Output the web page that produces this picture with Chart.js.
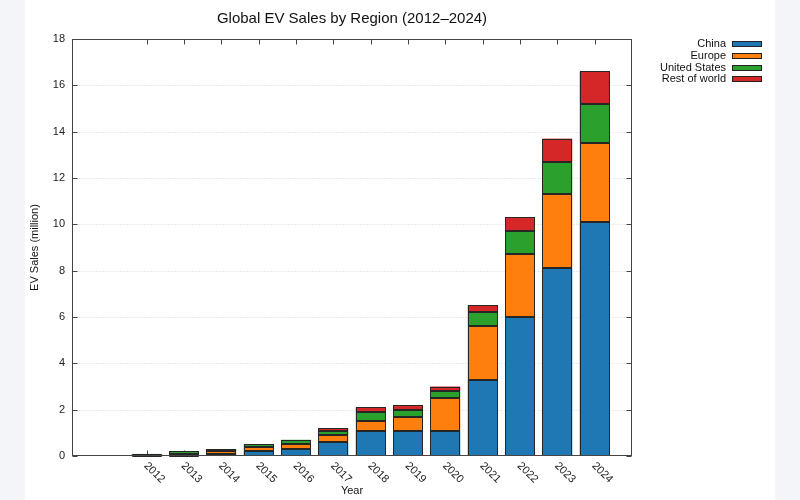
<!DOCTYPE html>
<html>
<head>
<meta charset="utf-8">
<script src="https://cdn.jsdelivr.net/npm/chart.js@4.4.1/dist/chart.umd.min.js"></script>
<style>
  html, body { margin: 0; padding: 0; background: #f4f5f9; }
  #wrap { position: absolute; left: 25px; top: 0; width: 750px; height: 500px; background: #ffffff; }
  canvas { display: block; }
</style>
</head>
<body>
<div id="wrap"><canvas id="c" width="750" height="500"></canvas></div>
<script>
// ---- data (million EV sales) ----
const years = ['2012','2013','2014','2015','2016','2017','2018','2019','2020','2021','2022','2023','2024'];
const china        = [0.01, 0.02, 0.1, 0.2, 0.3, 0.6, 1.1, 1.1, 1.1, 3.3, 6.0, 8.1, 10.1];
const europe       = [0.02, 0.08, 0.1, 0.2, 0.2, 0.3, 0.4, 0.6, 1.4, 2.3, 2.7, 3.2, 3.4];
const unitedStates = [0.06, 0.1, 0.1, 0.1, 0.2, 0.2, 0.4, 0.3, 0.3, 0.6, 1.0, 1.4, 1.7];
const restOfWorld  = [0.0, 0.0, 0.0, 0.0, 0.0, 0.1, 0.2, 0.2, 0.2, 0.3, 0.6, 1.0, 1.4];
const seriesNames  = ['China', 'Europe', 'United States', 'Rest of world'];
const seriesColors = ['#1f77b4', '#ff7f0e', '#2ca02c', '#d62728'];
const titleText = 'Global EV Sales by Region (2012\u20132024)';
const xTitle = 'Year';
const yTitle = 'EV Sales (million)';

const FONT = "'Liberation Sans', Arial, Helvetica, sans-serif";
const series = [china, europe, unitedStates, restOfWorld];
const datasets = series.map((arr, k) => ({
  label: seriesNames[k],
  data: arr.map((v, i) => ({ x: i, y: v })),
  backgroundColor: seriesColors[k],
  borderWidth: 0,
  barPercentage: 0.8,
  categoryPercentage: 1.0
}));

const gp = {
  id: 'gp',
  beforeDatasetsDraw(chart) {
    const { ctx, chartArea: a, scales: { x, y } } = chart;
    const L = Math.round(a.left) + 0.5, R = Math.round(a.right) - 0.5;
    const T = Math.round(a.top) + 0.5, B = Math.round(a.bottom) - 0.5;
    ctx.save();
    // dotted grid
    ctx.strokeStyle = '#d4d4d4';
    ctx.lineWidth = 1;
    ctx.setLineDash([1, 2]);
    y.ticks.forEach(t => {
      if (t.value <= y.min || t.value >= y.max) return;
      const py = Math.round(y.getPixelForValue(t.value)) + 0.5;
      ctx.beginPath(); ctx.moveTo(L, py); ctx.lineTo(R, py); ctx.stroke();
    });
    ctx.setLineDash([]);
    // tick marks (inward, mirrored)
    ctx.strokeStyle = '#444444';
    y.ticks.forEach(t => {
      const py = Math.round(y.getPixelForValue(t.value)) + 0.5;
      ctx.beginPath();
      ctx.moveTo(L, py); ctx.lineTo(L + 5, py);
      ctx.moveTo(R, py); ctx.lineTo(R - 5, py);
      ctx.stroke();
    });
    years.forEach((lab, i) => {
      const px = Math.round(x.getPixelForValue(i)) + 0.5;
      ctx.beginPath();
      ctx.moveTo(px, B); ctx.lineTo(px, B - 5);
      ctx.moveTo(px, T); ctx.lineTo(px, T + 5);
      ctx.stroke();
    });
    ctx.restore();
  },
  afterDatasetsDraw(chart) {
    const { ctx, chartArea: a } = chart;
    ctx.save();
    // bar outlines from the library's bar geometry
    ctx.strokeStyle = '#262626';
    ctx.lineWidth = 1;
    chart.data.datasets.forEach((ds, k) => {
      const meta = chart.getDatasetMeta(k);
      meta.data.forEach(el => {
        const p = el.getProps(['x', 'y', 'base', 'width'], true);
        const top = Math.min(p.y, p.base), bot = Math.max(p.y, p.base);
        if (bot - top < 0.01) return;
        const l = Math.round(p.x - p.width / 2) + 0.5;
        const r = Math.round(p.x + p.width / 2) - 0.5;
        const t = Math.round(top) + 0.5;
        const b = Math.round(bot) - 0.5;
        ctx.strokeRect(l, t, r - l, Math.max(b - t, 0));
      });
    });
    // frame
    const L = Math.round(a.left) + 0.5, R = Math.round(a.right) - 0.5;
    const T = Math.round(a.top) + 0.5, B = Math.round(a.bottom) - 0.5;
    ctx.strokeStyle = '#444444';
    ctx.strokeRect(L, T, R - L, B - T);
    ctx.restore();
  },
  afterDraw(chart) {
    const { ctx, chartArea: a, scales: { x } } = chart;
    ctx.save();
    // title
    ctx.fillStyle = '#111111';
    ctx.font = '15px ' + FONT;
    ctx.textAlign = 'center';
    ctx.textBaseline = 'middle';
    ctx.fillText(titleText, (a.left + a.right) / 2, 19);
    // rotated x labels
    ctx.font = '11px ' + FONT;
    ctx.fillStyle = '#222222';
    years.forEach((lab, i) => {
      const px = x.getPixelForValue(i);
      ctx.save();
      ctx.translate(px - 1, a.bottom + 8);
      ctx.rotate(Math.PI / 4);
      ctx.textAlign = 'left';
      ctx.textBaseline = 'middle';
      ctx.fillText(lab, 0, 0);
      ctx.restore();
    });
    // legend
    ctx.font = '11px ' + FONT;
    ctx.textAlign = 'right';
    ctx.textBaseline = 'middle';
    seriesNames.forEach((name, k) => {
      const cy = 44 + k * 11.8;
      ctx.fillStyle = '#111111';
      ctx.fillText(name, 701, cy);
      ctx.fillStyle = seriesColors[k];
      ctx.fillRect(707, Math.round(cy) - 3, 30, 6);
      ctx.strokeStyle = '#222222';
      ctx.lineWidth = 1;
      ctx.strokeRect(707.5, Math.round(cy) - 2.5, 29, 5);
    });
    ctx.restore();
  }
};

new Chart(document.getElementById('c'), {
  type: 'bar',
  data: { datasets },
  options: {
    responsive: false,
    animation: false,
    layout: { padding: { top: 39, right: 143, bottom: 0, left: 0 } },
    plugins: { legend: { display: false }, title: { display: false }, tooltip: { enabled: false } },
    scales: {
      x: {
        type: 'linear', stacked: true, min: -2, max: 13, offset: false,
        grid: { display: false, offset: false }, border: { display: false },
        ticks: { display: false },
        title: { display: true, text: xTitle, color: '#111111', font: { family: FONT, size: 11 }, padding: { top: 0, bottom: 2 } },
        afterFit: s => { s.height = 44; }
      },
      y: {
        stacked: true, min: 0, max: 18,
        grid: { display: false, drawTicks: false }, border: { display: false },
        ticks: { stepSize: 2, padding: 7, color: '#222222', font: { family: FONT, size: 11 } },
        title: { display: true, text: yTitle, color: '#111111', font: { family: FONT, size: 11 }, padding: { top: 3, bottom: 0 } },
        afterFit: s => { s.width = 47; }
      }
    }
  },
  plugins: [gp]
});
</script>
</body>
</html>
